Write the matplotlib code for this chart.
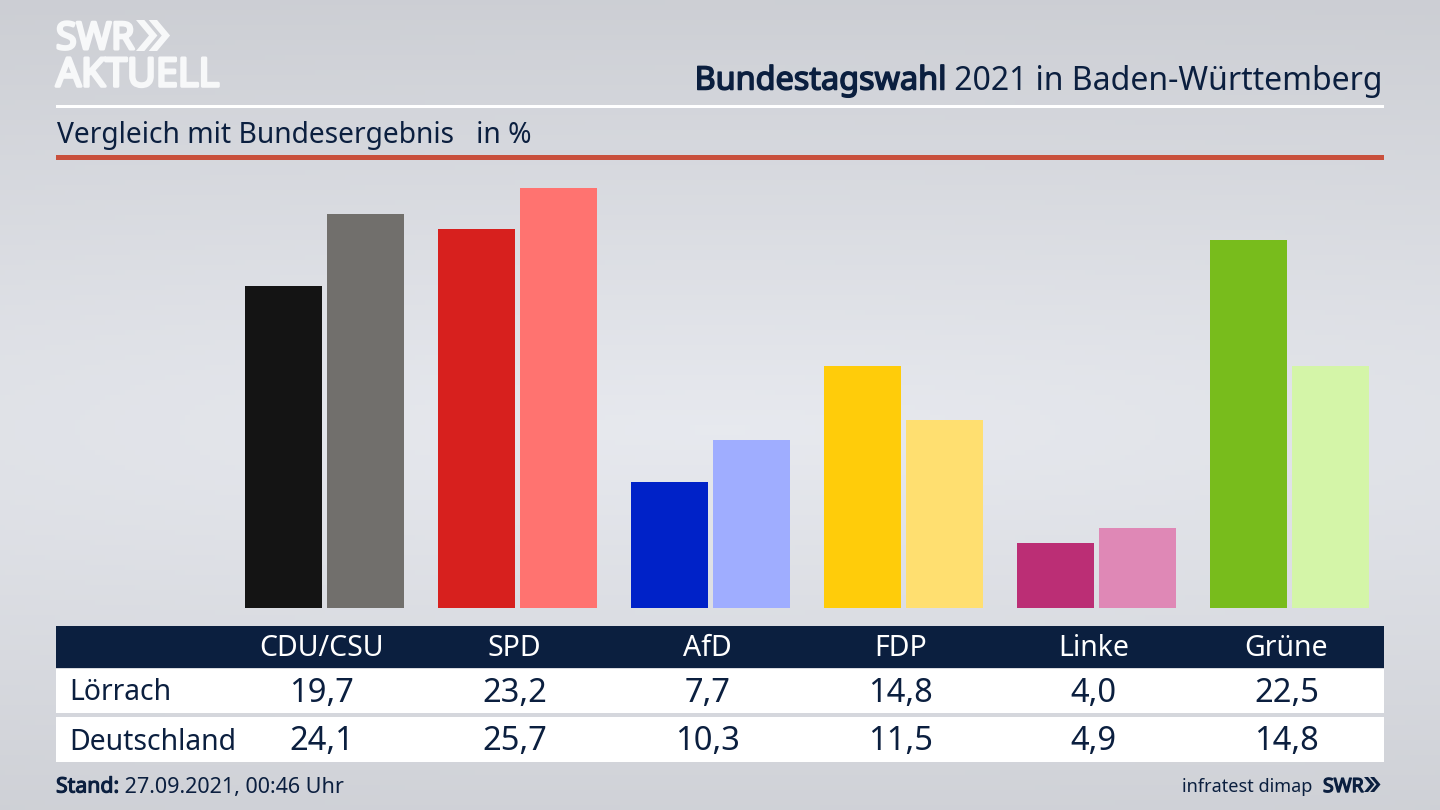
import numpy as np
import matplotlib
matplotlib.use('Agg')
import matplotlib.pyplot as plt
import matplotlib.patheffects as pe
from matplotlib.patches import Rectangle, Polygon

parties = ['CDU/CSU', 'SPD', 'AfD', 'FDP', 'Linke', 'Grüne']
loerrach = [19.7, 23.2, 7.7, 14.8, 4.0, 22.5]
deutschland = [24.1, 25.7, 10.3, 11.5, 4.9, 14.8]
colors_local = ['#141414', '#d7201e', '#0022c8', '#ffcc0a', '#bb2e75', '#78bc1c']
colors_bund = ['#716f6c', '#ff7370', '#9fadff', '#ffdf70', '#df88b6', '#d4f5a8']

NAVY = '#0b1f3f'
LOGO = '#f7f8f9'
FONT = ['Noto Sans', 'DejaVu Sans']
plt.rcParams['font.family'] = FONT


def heavy(color, width):
    # the installed bold faces don't come through, so thicken the glyphs
    return [pe.withStroke(linewidth=width, foreground=color)]


def chevrons(ax, x, y, h, color):
    # two small arrows next to the SWR wordmark
    w = h * 0.42
    t = h * 0.27
    for dx in (0, h * 0.41):
        pts = [(x + dx, y), (x + dx + t, y), (x + dx + t + w, y + h / 2),
               (x + dx + t, y + h), (x + dx, y + h), (x + dx + w, y + h / 2)]
        ax.add_patch(Polygon(pts, closed=True, color=color, lw=0))


fig = plt.figure(figsize=(14.4, 8.1), dpi=100)

# background + furniture, axes in image pixels
bg = fig.add_axes([0, 0, 1, 1])
bg.set_xlim(0, 1440)
bg.set_ylim(810, 0)
bg.axis('off')
yy, xx = np.mgrid[0:1:162j, 0:1:288j]
dist = np.clip(np.sqrt(((xx - 0.5) / 1.9) ** 2 + ((yy - 0.53) / 0.54) ** 2), 0, 1)
shade = 0.915 - 0.105 * dist
grad = np.dstack([shade - 0.008, shade, shade + 0.022])
bg.imshow(np.clip(grad, 0, 1), extent=(0, 1440, 810, 0), aspect='auto', zorder=0)

bg.add_patch(Rectangle((56, 105), 1328, 2.5, color='white', lw=0))
bg.add_patch(Rectangle((56, 155), 1328, 5, color='#c9503c', lw=0))
bg.add_patch(Rectangle((56, 626), 1328, 42, color=NAVY, lw=0))
bg.add_patch(Rectangle((56, 669), 1328, 44, color='white', lw=0))
bg.add_patch(Rectangle((56, 717), 1328, 45, color='white', lw=0))

# logo
bg.text(56, 39, 'SWR', fontsize=27, color=LOGO, va='center', ha='left', family='Open Sans',
        path_effects=heavy(LOGO, 2.2))
chevrons(bg, 136, 20, 31, LOGO)
bg.text(56, 76, 'AKTUELL', fontsize=28.5, color=LOGO, va='center', ha='left', family='Open Sans',
        path_effects=heavy(LOGO, 2.2))

# headings
t = bg.text(1383, 81, ' 2021 in Baden-Württemberg', fontsize=23, color=NAVY, ha='right', va='center')
bg.annotate('Bundestagswahl', xy=(0, 0.5), xycoords=t, fontsize=23.3, color=NAVY, ha='right', va='center',
            path_effects=heavy(NAVY, 1.1))
bg.text(57, 135, 'Vergleich mit Bundesergebnis   in %', fontsize=20.3, color=NAVY, ha='left', va='center')

# bars, baseline at y=608 and 16.34 px per percent
ax = fig.add_axes([0, 0, 1, 1])
ax.patch.set_alpha(0)
ax.axis('off')
ax.set_xlim(-324.5 / 193, (1440 - 324.5) / 193)
ax.set_ylim(-(810 - 608) / 16.34, 608 / 16.34)
x = np.arange(len(parties))
ax.bar(x - 0.2125, loerrach, width=0.4, color=colors_local, lw=0)
ax.bar(x + 0.2125, deutschland, width=0.4, color=colors_bund, lw=0)

# table
centres = 324.5 + 193 * x
for cx, party, lo, de in zip(centres, parties, loerrach, deutschland):
    bg.text(cx - 3, 648, party, fontsize=20.5, color='white', ha='center', va='center')
    bg.text(cx - 3, 693, f'{lo:.1f}'.replace('.', ','), fontsize=23.5, color=NAVY, ha='center', va='center')
    bg.text(cx - 3, 742, f'{de:.1f}'.replace('.', ','), fontsize=23.5, color=NAVY, ha='center', va='center')
bg.text(69, 693, 'Lörrach', fontsize=20.4, color=NAVY, ha='left', va='center')
bg.text(69, 742, 'Deutschland', fontsize=20.4, color=NAVY, ha='left', va='center')

# footer
s = bg.text(56, 787, 'Stand:', fontsize=15.3, color=NAVY, ha='left', va='center', path_effects=heavy(NAVY, 0.8))
bg.annotate(' 27.09.2021, 00:46 Uhr', xy=(1, 0.5), xycoords=s, fontsize=15.5, color=NAVY, ha='left', va='center')
bg.text(1312, 787, 'infratest dimap', fontsize=13, color=NAVY, ha='right', va='center')
bg.text(1323, 787, 'SWR', fontsize=14, color=NAVY, ha='left', va='center', family='Open Sans',
        path_effects=heavy(NAVY, 1.0))
chevrons(bg, 1364, 777, 15, NAVY)

fig.savefig('out.png', dpi=100)
plt.close(fig)
